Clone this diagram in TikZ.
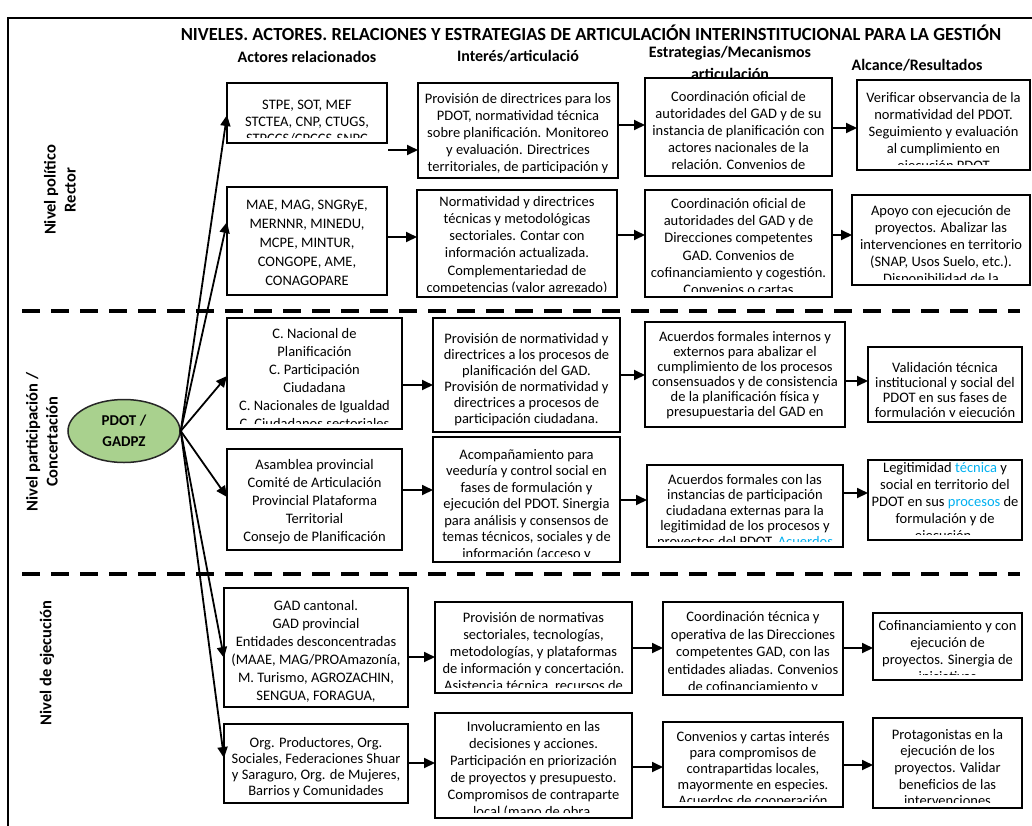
\documentclass[tikz,border=0pt]{standalone}
\usepackage{fontspec}
\setmainfont{Carlito}
\usetikzlibrary{arrows.meta,shapes.geometric}
\definecolor{cGreen}{HTML}{A9D18E}
\definecolor{cCyan}{HTML}{00B0F0}

\begin{document}
\begin{tikzpicture}[x=1pt,y=-1pt,
  >={Triangle[length=11pt,width=10pt]},
  abox/.style={draw,line width=1.6pt,fill=white,inner sep=0pt,outer sep=0pt},
  tx/.style n args={3}{path picture={
      \clip ([xshift=1pt,yshift=6pt]path picture bounding box.south west)
        rectangle ([xshift=-1pt,yshift=-2pt]path picture bounding box.north east);
      \node[anchor=north,align=center,inner sep=0pt,
            font={\fontsize{14.5}{#2}\selectfont\lineskiplimit=-20pt}]
        at ([yshift=-#1]path picture bounding box.north) {#3};}},
  hdr/.style={font=\bfseries\fontsize{16}{19}\selectfont},
  lvl/.style={font=\bfseries\fontsize{16.5}{20}\selectfont,rotate=90,align=center},
  flow/.style={->,line width=1.8pt},
  sep/.style={line width=4.5pt,dash pattern=on 18pt off 11pt}
]
\useasboundingbox (0,0) rectangle (1032,825);
\clip (0,0) rectangle (1032,825);
\draw[line width=1.5pt] (8,18) rectangle (1060,860);

\node[font=\bfseries\fontsize{18.5}{22}\selectfont] (titulo) at (591,33) {NIVELES. ACTORES. RELACIONES Y ESTRATEGIAS DE ARTICULACIÓN INTERINSTITUCIONAL PARA LA GESTIÓN};
\node[hdr] (hAct) at (307,57) {Actores relacionados};
\node[hdr] (hInt) at (518,56) {Interés/articulació};
\node[hdr] (hEst) at (730,53) {Estrategias/Mecanismos};
\node[hdr] (hEst2) at (730,74) {articulación};
\node[hdr] (hAlc) at (917,65) {Alcance/Resultados};

\node[lvl] (nv1) at (60,190) {Nivel político\\Rector};
\node[lvl] (nv2) at (42,442) {Nivel participación /\\Concertación};
\node[lvl] (nv3) at (47,663) {Nivel de ejecución};

\draw[sep] (22,311) -- (1020,311);
\draw[sep] (22,574) -- (1020,574);

% nivel politico
\node[abox,minimum width=160,minimum height=60,tx={9}{17}{STPE, SOT, MEF\\STCTEA, CNP, CTUGS,\\STPCCS/CPCCS-SNPC}] (a1) at (307,113) {};
\node[abox,minimum width=200,minimum height=95,tx={3}{17}{Provisión de directrices para los\\PDOT, normatividad técnica\\sobre planificación. Monitoreo\\y evaluación. Directrices\\territoriales, de participación y}] (b1) at (518,130.5) {};
\node[abox,minimum width=187,minimum height=98,tx={4}{17}{Coordinación oficial de\\autoridades del GAD y de su\\instancia de planificación con\\actores nacionales de la\\relación.  Convenios de}] (e1) at (738.5,127) {};
\node[abox,minimum width=173,minimum height=90,tx={8}{17}{Verificar observancia de la\\normatividad del PDOT.\\Seguimiento y evaluación\\al cumplimiento en\\ejecución PDOT}] (f1) at (943.5,125) {};
\node[abox,minimum width=160,minimum height=108,tx={2}{19}{MAE, MAG, SNGRyE,\\MERNNR, MINEDU,\\MCPE, MINTUR,\\CONGOPE, AME,\\CONAGOPARE}] (a2) at (307,241) {};
\node[abox,minimum width=200,minimum height=107,tx={2}{17.2}{Normatividad y directrices\\técnicas y metodológicas\\sectoriales. Contar con\\información actualizada.\\Complementariedad de\\competencias (valor agregado)}] (b2) at (517,243.5) {};
\node[abox,minimum width=187,minimum height=107,tx={3}{17.2}{Coordinación oficial de\\autoridades del GAD y de\\Direcciones competentes\\GAD. Convenios de\\cofinanciamiento y cogestión.\\Convenios o cartas}] (e2) at (738.5,243.5) {};
\node[abox,minimum width=178,minimum height=90,tx={6}{17}{Apoyo con ejecución de\\proyectos. Abalizar las\\intervenciones en territorio\\(SNAP, Usos Suelo, etc.).\\Disponibilidad de la}] (f2) at (941,240) {};

% nivel participacion
\node[abox,minimum width=175,minimum height=111,tx={5.5}{18}{C. Nacional de\\Planificación\\C. Participación\\Ciudadana\\C. Nacionales de Igualdad\\C. Ciudadanos sectoriales}] (c1) at (314.5,373.5) {};
\node[abox,minimum width=187,minimum height=114,tx={5}{16}{Provisión de normatividad y\\directrices a los procesos de\\planificación del GAD.\\Provisión de normatividad y\\directrices a procesos de\\participación ciudadana.}] (d1) at (526.5,375) {};
\node[abox,minimum width=200,minimum height=105,tx={1}{15}{Acuerdos formales internos y\\externos para abalizar el\\cumplimiento de los procesos\\consensuados y de consistencia\\de la planificación física y\\presupuestaria del GAD en}] (e3) at (745,374.5) {};
\node[abox,minimum width=154,minimum height=75,tx={7}{15}{Validación técnica\\institucional y social del\\PDOT en sus fases de\\formulación y ejecución}] (f3) at (945,384.5) {};
\node[abox,minimum width=175,minimum height=101,tx={2.5}{18}{Asamblea provincial\\Comité de Articulación\\Provincial Plataforma\\Territorial\\Consejo de Planificación}] (c2) at (314.5,499.5) {};
\node[abox,minimum width=187,minimum height=125,tx={5.5}{16.5}{Acompañamiento para\\veeduría y control social en\\fases de formulación y\\ejecución del PDOT. Sinergia\\para análisis y consensos de\\temas técnicos, sociales y de\\información (acceso y}] (d2) at (526.5,499.5) {};
\node[abox,minimum width=196,minimum height=82,tx={5.5}{15.5}{Acuerdos formales con las\\instancias de participación\\ciudadana externas para la\\legitimidad de los procesos y\\proyectos del PDOT. \textcolor{cCyan}{Acuerdos}}] (e4) at (745,506) {};
\node[abox,minimum width=154,minimum height=80,tx={2.5}{17}{Legitimidad \textcolor{cCyan}{técnica} y\\social en territorio del\\PDOT en sus \textcolor{cCyan}{procesos} de\\formulación y de\\ejecución.}] (f4) at (945,500) {};

% nivel ejecucion
\node[abox,minimum width=184,minimum height=119,tx={4}{18}{GAD cantonal.\\GAD provincial\\Entidades desconcentradas\\(MAAE, MAG/PROAmazonía,\\M. Turismo, AGROZACHIN,\\SENGUA, FORAGUA,}] (g1) at (316,647.5) {};
\node[abox,minimum width=197,minimum height=91,tx={4.5}{17}{Provisión de normativas\\sectoriales, tecnologías,\\metodologías, y plataformas\\de información y concertación.\\Asistencia técnica, recursos de}] (i1) at (533.5,647.5) {};
\node[abox,minimum width=180,minimum height=93,tx={4.5}{17.5}{Coordinación técnica y\\operativa de las Direcciones\\competentes GAD, con las\\entidades aliadas. Convenios\\de cofinanciamiento y}] (j1) at (753,648.5) {};
\node[abox,minimum width=149,minimum height=67,tx={4.5}{17}{Cofinanciamiento y con\\ejecución de\\proyectos. Sinergia de\\iniciativas}] (k1) at (947.5,646.5) {};
\node[abox,minimum width=184,minimum height=79,tx={4}{16}{Org. Productores, Org.\\Sociales, Federaciones Shuar\\y Saraguro, Org. de Mujeres,\\Barrios y Comunidades}] (h1) at (316,763.5) {};
\node[abox,minimum width=197,minimum height=105,tx={4.5}{17}{Involucramiento en las\\decisiones y acciones.\\Participación en priorización\\de proyectos y presupuesto.\\Compromisos de contraparte\\local (mano de obra,}] (l1) at (533.5,765.5) {};
\node[abox,minimum width=180,minimum height=85,tx={5}{16}{Convenios y cartas interés\\para compromisos de\\contrapartidas locales,\\mayormente en especies.\\Acuerdos de cooperación}] (m1) at (753,764.5) {};
\node[abox,minimum width=149,minimum height=90,tx={4.5}{16.7}{Protagonistas en la\\ejecución de los\\proyectos.  Validar\\beneficios de las\\intervenciones}] (n1) at (947.5,763) {};

\node[ellipse,draw=black!85,line width=1.5pt,fill=cGreen,minimum width=112,minimum height=63,inner sep=0pt,align=center,font=\bfseries\fontsize{15}{21}\selectfont] (pdot) at (124,431) {PDOT /\\GADPZ};

\coordinate (a1out) at (388,150);
\draw[flow] (a1out) -- (a1out -| b1.west);
\draw[flow] (b1.east |- 0,125) -- (e1.west |- 0,125);
\draw[flow] (e1.east |- 0,128) -- (f1.west |- 0,128);
\draw[flow] (a2.east |- 0,237) -- (b2.west |- 0,237);
\draw[flow] (b2.east |- 0,235) -- (e2.west |- 0,235);
\draw[flow] (e2.east |- 0,235) -- (f2.west |- 0,235);
\draw[flow] (c1.east |- 0,385) -- (d1.west |- 0,385);
\draw[flow] (d1.east |- 0,375) -- (e3.west |- 0,375);
\draw[flow] (e3.east |- 0,381) -- (f3.west |- 0,381);
\draw[flow] (c2.east |- 0,490) -- (d2.west |- 0,490);
\draw[flow] (d2.east |- 0,500) -- (e4.west |- 0,500);
\draw[flow] (e4.east |- 0,493) -- (f4.west |- 0,493);
\draw[flow] (g1.east |- 0,657) -- (i1.west |- 0,657);
\draw[flow] (i1.east |- 0,648) -- (j1.west |- 0,648);
\draw[flow] (j1.east |- 0,648) -- (k1.west |- 0,648);
\draw[flow] (h1.east |- 0,763) -- (l1.west |- 0,763);
\draw[flow] (l1.east |- 0,767) -- (m1.west |- 0,767);
\draw[flow] (m1.east |- 0,765) -- (n1.west |- 0,765);

\draw[flow] (pdot.east) -- (a1.west |- 0,115);
\draw[flow] (pdot.east) -- (a2.west |- 0,222);
\draw[flow] (pdot.east) -- (c1.west |- 0,376);
\draw[flow] (pdot.east) -- (c2.west |- 0,497);
\draw[flow] (pdot.east) -- (g1.west |- 0,658);
\draw[flow] (pdot.east) -- (h1.west |- 0,758);
\end{tikzpicture}
\end{document}
